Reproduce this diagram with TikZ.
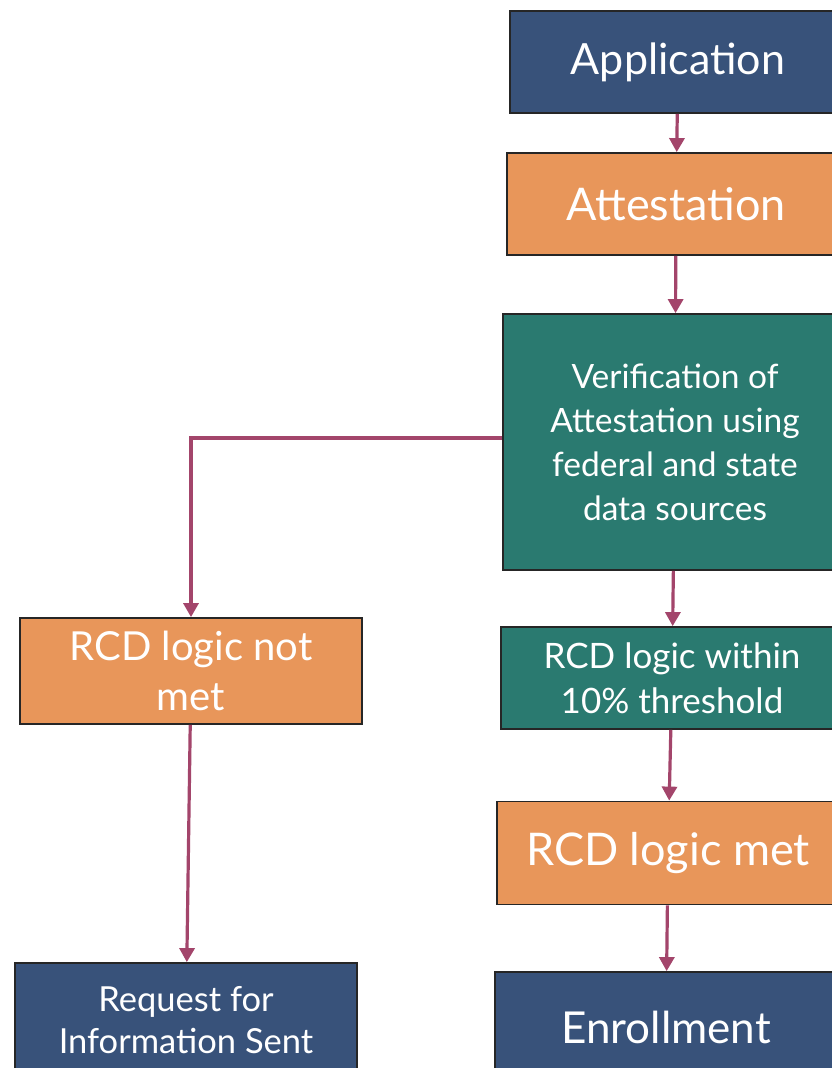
\documentclass[tikz,border=0pt]{standalone}
\usepackage{fontspec}
\setmainfont{Lato}
\usetikzlibrary{arrows.meta}
\definecolor{navy}{RGB}{56,82,122}
\definecolor{orng}{RGB}{232,150,90}
\definecolor{teal2}{RGB}{42,122,112}
\definecolor{arr}{RGB}{163,69,107}
\tikzset{
  box/.style={draw=black!85, line width=1.8pt, rectangle, inner sep=0pt, align=center, text=white},
  navybox/.style={box, fill=navy},
  orngbox/.style={box, fill=orng},
  tealbox/.style={box, fill=teal2},
  flow/.style={draw=arr, line width=3.2pt, -{Triangle[width=15pt,length=14pt]}},
}
\begin{document}
\begin{tikzpicture}[x=1pt,y=-1pt]
\useasboundingbox (0,0) rectangle (832,1068);
\clip (0,0) rectangle (832,1068);
\fill[white] (0,0) rectangle (832,1068);
\node[navybox, minimum width=336pt, minimum height=102pt, font=\fontsize{43}{50}\selectfont] (app) at (678,62) {Application};
\node[orngbox, minimum width=338pt, minimum height=102pt, font=\fontsize{45}{50}\selectfont] (att) at (676,204) {Attestation};
\node[tealbox, minimum width=344pt, minimum height=256pt, font=\fontsize{33.5}{44}\selectfont] (ver) at (675,442) {Verification of\\Attestation using\\federal and state\\data sources};
\node[orngbox, minimum width=342pt, minimum height=106pt, font=\fontsize{40}{50}\selectfont] (notmet) at (191,671) {RCD logic not\\met};
\node[navybox, minimum width=342pt, minimum height=114pt, font=\fontsize{34.5}{42}\selectfont] (req) at (186,1020) {Request for\\Information Sent};
\node[tealbox, minimum width=342pt, minimum height=102pt, font=\fontsize{35}{45}\selectfont] (within) at (672,678) {RCD logic within\\10\% threshold};
\node[orngbox, minimum width=342pt, minimum height=103pt, font=\fontsize{45}{50}\selectfont] (met) at (668,853) {RCD logic met};
\node[navybox, minimum width=342pt, minimum height=110pt, font=\fontsize{44}{50}\selectfont] (enr) at (666,1027) {Enrollment};
\draw[flow] (app) -- (att);
\draw[flow] (att) -- (ver);
\draw[flow] ([yshift=4pt]ver.west) -| (notmet.north);
\draw[flow] (ver) -- (within);
\draw[flow] (within) -- (met);
\draw[flow] (met) -- (enr);
\draw[flow] (notmet) -- (req);
\end{tikzpicture}
\end{document}
